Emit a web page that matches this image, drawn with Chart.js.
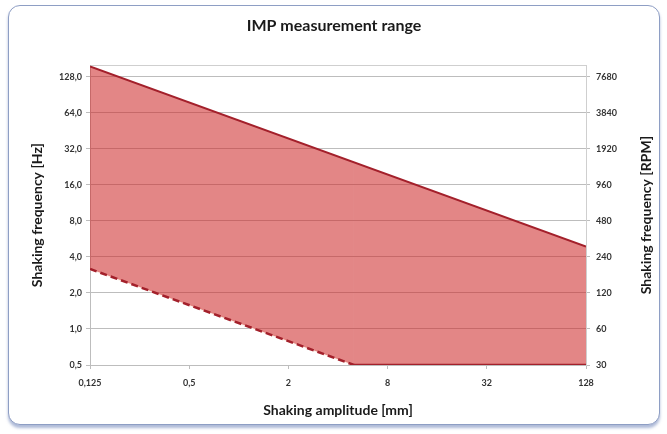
<!DOCTYPE html>
<html lang="en">
    <head>
        <meta charset="utf-8" />
        <script src="https://cdn.jsdelivr.net/npm/chart.js@4.4.1/dist/chart.umd.min.js"></script>
        <title>IMP measurement range</title>
        <style>
            html, body { margin: 0; padding: 0; background: #fff; }
            #caja {
                position: absolute; left: 8px; top: 5px; width: 650px; height: 418px;
                border: 1.5px solid #8e9ec4; border-radius: 12px;
                box-shadow: 0 3px 3px rgba(120,140,190,0.6);
                background: #fff;
            }
        </style>
    </head>
    <body>
        <div id="caja"><canvas id="grafico" width="650" height="418"></canvas></div>
        <script>
            // datos
            const amplitudMax = [0.125, 128];
            const frecMax = [156, 4.88];
            const amplitudMin = [0.125, 5, 128];
            const frecMin = [3.17, 0.5, 0.5];
            // ticks
            const ticksX = [0.125, 0.5, 2, 8, 32, 128];
            const ticksHz = [0.5, 1, 2, 4, 8, 16, 32, 64, 128];
            const ticksRpm = [30, 60, 120, 240, 480, 960, 1920, 3840, 7680];
            const tituloRpm = "Shaking frequency [RPM]";

            const rojo = "#a3202b";
            const fuenteTicks = { family: "Lato", size: 9, weight: "bold" };
            const fuenteTitulo = { family: "Lato", size: 14, weight: "bold" };
            const coma = v => String(v).replace(".", ",");

            const puntos = (xs, ys) => xs.map((x, i) => ({ x: x, y: ys[i] }));

            // el titulo derecho se lee de abajo hacia arriba, como el izquierdo
            const tituloDerecho = {
                id: "tituloDerecho",
                afterDraw(chart) {
                    const ctx = chart.ctx;
                    const s = chart.scales.y2;
                    ctx.save();
                    ctx.translate(s.right - 13, (chart.chartArea.top + chart.chartArea.bottom) / 2);
                    ctx.rotate(-Math.PI / 2);
                    ctx.font = "bold 14px Lato";
                    ctx.fillStyle = "#1a1a1a";
                    ctx.textAlign = "center";
                    ctx.textBaseline = "middle";
                    ctx.fillText(tituloRpm, 0, 0);
                    ctx.restore();
                }
            };

            new Chart(document.getElementById("grafico"), {
                type: "line",
                data: {
                    datasets: [
                        {
                            data: puntos(amplitudMax, frecMax),
                            borderColor: rojo, borderWidth: 2, pointRadius: 0,
                            backgroundColor: "rgba(205,40,40,0.56)",
                            fill: "+1", order: 1
                        },
                        {
                            data: puntos(amplitudMin, frecMin),
                            borderColor: rojo, borderWidth: 2.5, pointRadius: 0, fill: false, order: 0,
                            segment: { borderDash: ctx => ctx.p0.parsed.x < amplitudMin[1] ? [7, 4] : undefined }
                        },
                        {
                            // fondo claro bajo la linea discontinua
                            data: puntos(amplitudMin.slice(0, 2), frecMin.slice(0, 2)),
                            borderColor: "#fdf6f0", borderWidth: 2.5, pointRadius: 0, fill: false, order: 2
                        }
                    ]
                },
                plugins: [tituloDerecho],
                options: {
                    responsive: false,
                    animation: false,
                    layout: { padding: 0 },
                    plugins: {
                        legend: { display: false },
                        tooltip: { enabled: false },
                        title: {
                            display: true, text: "IMP measurement range", color: "#1a1a1a",
                            font: { family: "Lato", size: 16, weight: "bold" },
                            padding: { top: 10, bottom: 30 }
                        }
                    },
                    scales: {
                        x: {
                            type: "logarithmic", min: 0.125, max: 128,
                            afterBuildTicks: s => { s.ticks = ticksX.map(v => ({ value: v })); },
                            afterFit: s => { s.height = 59; },
                            ticks: { callback: v => coma(v), color: "#333", font: fuenteTicks, padding: 9, maxRotation: 0 },
                            grid: { drawOnChartArea: false, tickLength: 4, color: "#bdbdbd" },
                            border: { color: "#bdbdbd" },
                            title: { display: true, text: "Shaking amplitude [mm]", color: "#1a1a1a", font: fuenteTitulo, padding: { bottom: 5 } }
                        },
                        xTop: {
                            type: "logarithmic", position: "top", min: 0.125, max: 128,
                            afterFit: s => { s.height = 0; },
                            ticks: { display: false },
                            grid: { display: false },
                            border: { color: "#cfcfcf" }
                        },
                        y: {
                            type: "logarithmic", position: "left", min: 0.5, max: 160,
                            afterBuildTicks: s => { s.ticks = ticksHz.map(v => ({ value: v })); },
                            afterFit: s => { s.width = 81; },
                            ticks: { callback: v => coma(v.toFixed(1)), color: "#333", font: fuenteTicks, padding: 4 },
                            grid: { color: "#bdbdbd", tickLength: 4 },
                            border: { color: "#bdbdbd" },
                            title: { display: true, text: "Shaking frequency [Hz]", color: "#1a1a1a", font: fuenteTitulo, padding: { top: 20 } }
                        },
                        y2: {
                            type: "logarithmic", position: "right", min: 30, max: 9600,
                            afterBuildTicks: s => { s.ticks = ticksRpm.map(v => ({ value: v })); },
                            afterFit: s => { s.width = 73; },
                            ticks: { callback: v => String(v), color: "#333", font: fuenteTicks, padding: 6 },
                            grid: { drawOnChartArea: false, color: "#bdbdbd", tickLength: 4 },
                            border: { color: "#cfcfcf" },
                            title: { display: false }
                        }
                    }
                }
            });
        </script>
    </body>
</html>
